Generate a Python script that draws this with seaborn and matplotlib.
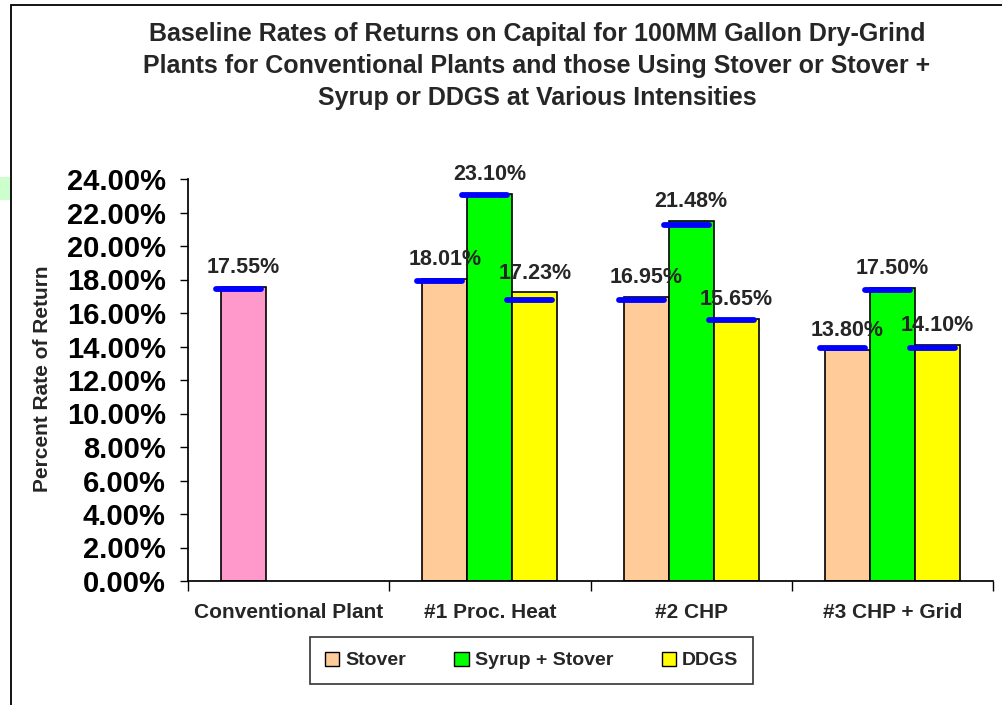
import numpy as np
import pandas as pd
import matplotlib.pyplot as plt
import seaborn as sns
from matplotlib.patches import Patch, Rectangle
from matplotlib.ticker import PercentFormatter

# Values (percent).
categories = ["Conventional Plant", "#1 Proc. Heat", "#2 CHP", "#3 CHP + Grid"]
series = ["Stover", "Syrup + Stover", "DDGS"]
stover = [17.55, 18.01, 16.95, 13.80]
syrup_stover = [np.nan, 23.10, 21.48, 17.50]
ddgs = [np.nan, 17.23, 15.65, 14.10]

# Blue marker lines drawn across each bar.
stover_marks = [17.43, 17.90, 16.80, 13.90]
syrup_marks = [np.nan, 23.05, 21.25, 17.40]
ddgs_marks = [np.nan, 16.80, 15.60, 13.90]

colors = ["#ffcc99", "#00ff00", "#ffff00"]
conventional_color = "#ff99cc"

# Long table for seaborn, leaving out the empty slots.
df = pd.DataFrame({
    "Plant": categories * 3,
    "Fuel": [s for s in series for _ in categories],
    "Rate": stover + syrup_stover + ddgs,
}).dropna()
marks = dict(zip(series, [stover_marks, syrup_marks, ddgs_marks]))

sns.set_theme(style="ticks")
plt.rcParams["font.family"] = ["Liberation Sans", "DejaVu Sans"]
plt.rcParams["font.weight"] = "bold"

fig = plt.figure(figsize=(10.03, 7.05), dpi=100)
ax = fig.add_axes([188 / 1003, 1 - 581 / 705, (993 - 188) / 1003, (581 - 179) / 705])

sns.barplot(data=df, x="Plant", y="Rate", hue="Fuel", order=categories,
            hue_order=series, palette=colors, width=0.67, edgecolor="black",
            linewidth=1.2, saturation=1, ax=ax)
ax.get_legend().remove()

# The conventional plant bar sits in the Stover slot but is pink.
first = min(ax.containers[0], key=lambda b: b.get_x())
first.set_facecolor(conventional_color)

# Value labels and blue marker lines.
for name, cont in zip(series, ax.containers):
    for bar in cont:
        x0 = bar.get_x()
        w = bar.get_width()
        h = bar.get_height()
        idx = int(round(x0 + w / 2))
        ax.annotate(f"{h:.2f}%", (x0 + w / 2, h), xytext=(0, 10),
                    textcoords="offset points", ha="center", va="baseline",
                    fontsize=15.5, fontweight="bold")
        m = marks[name][idx]
        if not np.isnan(m):
            ax.hlines(m, x0 - 0.025, x0 + w - 0.025, color="#0000ff",
                      linewidth=4.2, capstyle="round", zorder=5)

ax.set_ylim(0, 24)
ax.set_yticks(np.arange(0, 25, 2))
ax.yaxis.set_major_formatter(PercentFormatter(xmax=100, decimals=2))
ax.tick_params(axis="y", labelsize=21, length=6, width=1, pad=10, colors="black")

# Excel style: ticks between categories, labels at the centres.
ax.set_xlim(-0.5, len(categories) - 0.5)
ax.set_xticks(np.arange(len(categories) + 1) - 0.5)
ax.set_xticklabels([])
ax.set_xticks(range(len(categories)), minor=True)
ax.set_xticklabels(categories, minor=True, fontsize=15, fontweight="bold")
ax.tick_params(axis="x", which="major", length=7, width=1, colors="black")
ax.tick_params(axis="x", which="minor", length=0, pad=16)
for t in ax.get_yticklabels():
    t.set_fontweight("bold")

ax.set_xlabel("")
ax.set_ylabel("")
sns.despine(ax=ax)
ax.spines["left"].set_color("black")
ax.spines["bottom"].set_color("black")

fig.text(43 / 1003, 1 - 379 / 705, "Percent Rate of Return", rotation=90,
         ha="center", va="center", fontsize=15, fontweight="bold")

fig.text(537 / 1003, 1 - 66 / 705,
         "Baseline Rates of Returns on Capital for 100MM Gallon Dry-Grind\n"
         "Plants for Conventional Plants and those Using Stover or Stover +\n"
         "Syrup or DDGS at Various Intensities",
         ha="center", va="center", fontsize=18, fontweight="bold",
         linespacing=1.4)

handles = [Patch(facecolor=c, edgecolor="black", linewidth=1) for c in colors]
leg = fig.legend(handles, series, loc="center", bbox_to_anchor=(531.5 / 1003, 1 - 660.5 / 705),
                 ncol=3, fontsize=14, frameon=True, fancybox=False,
                 edgecolor="black", handlelength=0.75, handleheight=0.75,
                 handletextpad=0.3, columnspacing=2.5, borderpad=0.75,
                 borderaxespad=0)
leg.get_frame().set_linewidth(1.2)
for t in leg.get_texts():
    t.set_fontweight("bold")

# Outer chart frame and the small green mark at the left edge.
fig.patches.append(Rectangle((11 / 1003, -0.05), 1.2, 1 - 5 / 705 + 0.05,
                             transform=fig.transFigure, fill=False,
                             edgecolor="black", linewidth=1.3))
fig.patches.append(Rectangle((0, 1 - 200 / 705), 10 / 1003, 23 / 705,
                             transform=fig.transFigure, color="#ccffcc",
                             linewidth=0))

plt.savefig("out.png", dpi=100)
